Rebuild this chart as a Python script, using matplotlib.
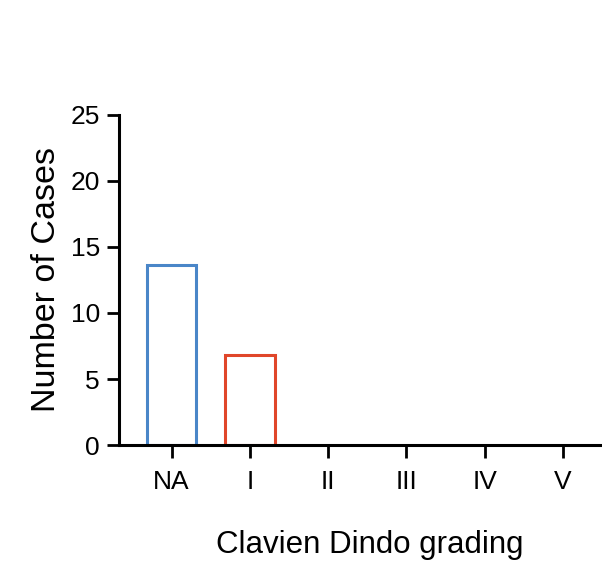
import matplotlib.pyplot as plt

plt.rcParams['font.family'] = ['Liberation Sans', 'DejaVu Sans']

grades = ['NA', 'I', 'II', 'III', 'IV', 'V']
cases = [13.6, 6.8, 0, 0, 0, 0]
bar_colors = ['#4a86c8', '#e0462a', '#4a86c8', '#e0462a', '#4a86c8', '#e0462a']

fig = plt.figure(figsize=(6.02, 5.72), dpi=100)
ax = fig.add_axes([0.198, 0.222, 0.802, 0.577])

x = range(len(grades))
# empty categories get no outline so nothing shows on the axis line
edges = [c if v > 0 else 'none' for c, v in zip(bar_colors, cases)]
ax.bar(x, cases, width=0.63, facecolor='white', edgecolor=edges, linewidth=2.2)

ax.set_xlim(-0.67, 5.5)
ax.set_ylim(0, 25)
ax.set_yticks([0, 5, 10, 15, 20, 25])
ax.set_xticks(list(x))
ax.set_xticklabels(grades)

for side in ['top', 'right']:
    ax.spines[side].set_visible(False)
for side in ['left', 'bottom']:
    ax.spines[side].set_linewidth(2.2)
ax.tick_params(axis='both', direction='out', length=9, width=2, labelsize=19)
ax.tick_params(axis='x', pad=9)
ax.tick_params(axis='y', pad=5)

ax.set_ylabel('Number of Cases', fontsize=24.5, labelpad=6)
ax.set_xlabel('Clavien Dindo grading', fontsize=22.5, va='center')
ax.xaxis.set_label_coords(0.519, -0.303)

plt.savefig('out.png', dpi=100)
